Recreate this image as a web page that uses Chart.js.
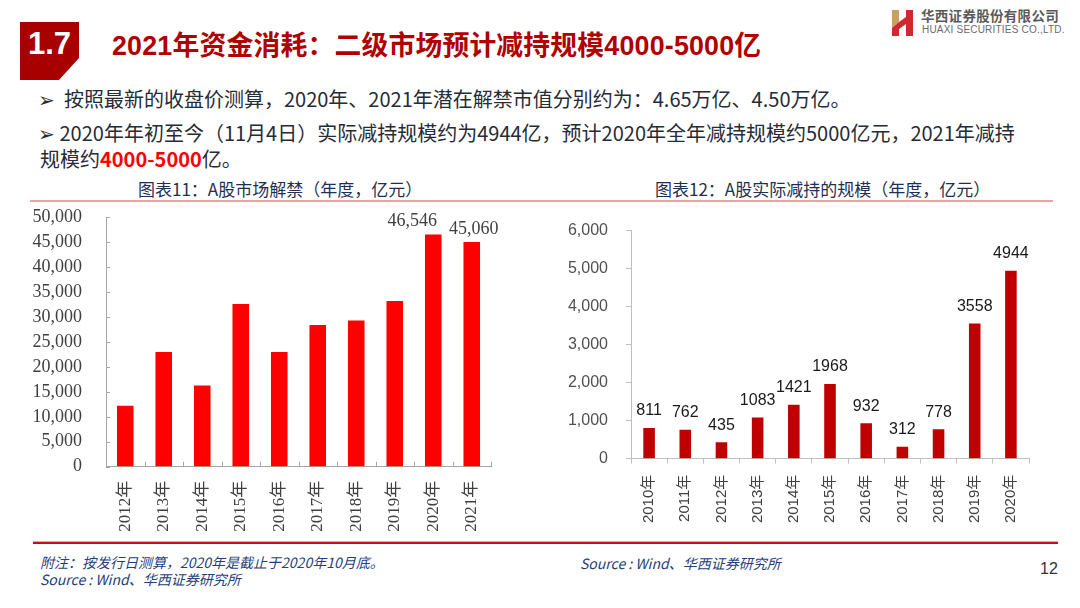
<!DOCTYPE html>
<html>
<head>
<meta charset="utf-8">
<script src="https://cdn.jsdelivr.net/npm/chart.js@4.4.0/dist/chart.umd.min.js"></script>
<style>
  html, body { margin: 0; padding: 0; background: #fff; }
  body { width: 1080px; height: 608px; position: relative; overflow: hidden;
         font-family: "Noto Sans CJK SC", "Liberation Sans", sans-serif; }
  .abs { position: absolute; white-space: nowrap; }
  #badge { left: 20px; top: 22px; width: 59px; height: 58px; background: #a80000;
           clip-path: polygon(0 0, 100% 0, 100% 62%, 66% 100%, 0 100%); }
  #badgeText { left: 20px; top: 26px; width: 59px; text-align: center; color: #fff;
               font: bold 31px "Liberation Sans", sans-serif; }
  #title { left: 112px; top: 24px; color: #b00000; font-size: 26.8px; font-weight: bold;
           font-family: "Liberation Sans", "Noto Sans CJK SC", sans-serif; letter-spacing: 0.2px; }
  .bullet { color: #262b36; font-size: 20px; }
  .ctitle { color: #1f2f52; font-size: 17px; }
  .foot { color: #24407a; font-size: 14px; font-style: italic; }
  .hr1 { position: absolute; left: 30px; top: 200px; width: 1023px; height: 2px; background: #eba3a3; }
  .hr2 { position: absolute; left: 33px; top: 542px; width: 1025px; height: 2px; background: #c41010; }
  .hr2b { position: absolute; left: 33px; top: 541px; width: 1025px; height: 1px; background: #e6a8a8; }
  canvas { position: absolute; }
</style>
</head>
<body>
<div id="badge" class="abs"></div>
<div id="badgeText" class="abs">1.7</div>
<div id="title" class="abs">2021年资金消耗：二级市场预计减持规模4000-5000亿</div>

<svg class="abs" style="left:890px;top:9px" width="26" height="28" viewBox="0 0 26 28">
  <polygon points="2,1 9,1 9,13 2,19" fill="#c9a063"/>
  <polygon points="2,19 9,13 9,27 2,27" fill="#d0282e"/>
  <rect x="16" y="1" width="7" height="26" fill="#d0282e"/>
  <polygon points="9,13 16,8 16,15 9,20" fill="#d0282e"/>
</svg>
<div class="abs" style="left:921px;top:8px;line-height:14px;color:#5a5a5a;font-weight:bold;font-size:13.5px;font-family:'Noto Sans CJK SC';letter-spacing:0.3px">华西证券股份有限公司</div>
<div class="abs" style="left:922px;top:24px;line-height:12px;color:#6a6a6a;font-size:10px;font-family:'Liberation Sans';letter-spacing:0.2px">HUAXI SECURITIES CO.,LTD.</div>

<div class="abs bullet" style="left:38px;top:84px">➢&nbsp;&nbsp;按照最新的收盘价测算，2020年、2021年潜在解禁市值分别约为：4.65万亿、4.50万亿。</div>
<div class="abs bullet" style="left:38px;top:118px">➢ 2020年年初至今（11月4日）实际减持规模约为4944亿，预计2020年全年减持规模约5000亿元，2021年减持</div>
<div class="abs bullet" style="left:40px;top:144px">规模约<span style="color:#ff0000;font-weight:bold">4000-5000</span>亿。</div>

<div class="abs ctitle" style="left:138px;top:176px">图表11：A股市场解禁（年度，亿元）</div>
<div class="abs ctitle" style="left:655px;top:176px">图表12：A股实际减持的规模（年度，亿元）</div>
<div class="hr1"></div>

<canvas id="c1" width="500" height="335" style="left:20px;top:205px;width:500px;height:335px"></canvas>
<canvas id="c2" width="505" height="335" style="left:555px;top:203px;width:505px;height:335px"></canvas>

<div class="hr2b"></div>
<div class="hr2"></div>
<div class="abs foot" style="left:40px;top:552px">附注：按发行日测算，2020年是截止于2020年10月底。</div>
<div class="abs foot" style="left:40px;top:569px">Source : Wind、华西证券研究所</div>
<div class="abs foot" style="left:580px;top:553px">Source : Wind、华西证券研究所</div>
<div class="abs" style="left:1040px;top:560px;color:#333;font:16px 'Liberation Sans'">12</div>

<script>
// ---------- data ----------
const leftCategories = ['2012年','2013年','2014年','2015年','2016年','2017年','2018年','2019年','2020年','2021年'];
const leftValues = [12200, 23000, 16300, 32600, 23000, 28400, 29300, 33200, 46546, 45060];
const leftLabeledCategories = ['2020年','2021年'];
const leftTickMax = 50000;
const leftTickStep = 5000;

const rightCategories = ['2010年','2011年','2012年','2013年','2014年','2015年','2016年','2017年','2018年','2019年','2020年'];
const rightValues = [811, 762, 435, 1083, 1421, 1968, 932, 312, 778, 3558, 4944];
const rightTickMax = 6000;
const rightTickStep = 1000;

const fmt = v => v.toLocaleString('en-US');

// ---------- plugins ----------
const labelPlugin = {
  id: 'barLabels',
  afterDatasetsDraw(chart, args, opts) {
    const ctx = chart.ctx;
    const meta = chart.getDatasetMeta(0);
    const ds = chart.data.datasets[0];
    ctx.save();
    ctx.font = opts.font;
    ctx.fillStyle = opts.color;
    ctx.textAlign = 'center';
    ctx.textBaseline = 'bottom';
    meta.data.forEach((bar, i) => {
      const cat = chart.data.labels[i];
      if (opts.only && !opts.only.includes(cat)) return;
      const dx = (opts.dx && opts.dx[cat]) || 0;
      const text = opts.format ? opts.format(ds.data[i]) : String(ds.data[i]);
      ctx.fillText(text, bar.x + dx, bar.y - opts.gap);
    });
    ctx.restore();
  }
};

const innerTicksPlugin = {
  id: 'innerTicks',
  afterDraw(chart, args, opts) {
    if (!opts.enabled) return;
    const ctx = chart.ctx;
    const x = chart.scales.x, y = chart.scales.y;
    ctx.save();
    ctx.strokeStyle = opts.color;
    ctx.lineWidth = 1;
    ctx.beginPath();
    y.ticks.forEach(t => {
      const py = Math.round(y.getPixelForValue(t.value)) + 0.5;
      ctx.moveTo(x.left, py); ctx.lineTo(x.left + 4, py);
    });
    const n = chart.data.labels.length;
    const w = (x.right - x.left) / n;
    for (let i = 0; i <= n; i++) {
      const px = Math.round(x.left + i * w) + 0.5;
      ctx.moveTo(px, y.bottom); ctx.lineTo(px, y.bottom - 5);
    }
    ctx.stroke();
    ctx.restore();
  }
};

// ---------- left chart ----------
new Chart(document.getElementById('c1'), {
  type: 'bar',
  data: { labels: leftCategories,
          datasets: [{ data: leftValues, backgroundColor: '#ff0000',
                       barPercentage: 0.43, categoryPercentage: 1.0 }] },
  plugins: [labelPlugin, innerTicksPlugin],
  options: {
    responsive: false, animation: false,
    layout: { padding: { top: 12.3, right: 29, left: 0, bottom: 0 } },
    plugins: {
      legend: { display: false }, tooltip: { enabled: false },
      barLabels: { font: '18px "Liberation Serif", serif', color: '#404040', gap: 4,
                   only: leftLabeledCategories, dx: { '2020年': -21, '2021年': 2 }, format: fmt },
      innerTicks: { enabled: true, color: '#a6a6a6' }
    },
    scales: {
      x: {
        grid: { display: false, drawTicks: false },
        border: { display: true, color: '#a6a6a6' },
        ticks: { autoSkip: false, maxRotation: 90, minRotation: 90, padding: 14,
                 color: '#404040', font: { family: '"Liberation Serif", "Noto Sans CJK SC", serif', size: 17 } },
        afterFit(s) { s.height = 73.3; }
      },
      y: {
        min: 0, max: leftTickMax,
        grid: { display: true, drawOnChartArea: false, drawTicks: true, tickLength: 24, tickColor: 'rgba(0,0,0,0)' },
        border: { display: true, color: '#a6a6a6' },
        ticks: { autoSkip: false, stepSize: leftTickStep, padding: 0, color: '#404040', callback: v => fmt(v),
                 font: { family: '"Liberation Serif", serif', size: 18 } },
        afterFit(s) { s.width = 86; }
      }
    }
  }
});

// ---------- right chart ----------
new Chart(document.getElementById('c2'), {
  type: 'bar',
  data: { labels: rightCategories,
          datasets: [{ data: rightValues, backgroundColor: '#c00000',
                       barPercentage: 0.32, categoryPercentage: 1.0 }] },
  plugins: [labelPlugin],
  options: {
    responsive: false, animation: false,
    layout: { padding: { top: 27.7, right: 31, left: 0, bottom: 0 } },
    plugins: {
      legend: { display: false }, tooltip: { enabled: false },
      barLabels: { font: '16px "Liberation Sans", sans-serif', color: '#1a1a1a', gap: 9 }
    },
    scales: {
      x: {
        grid: { drawOnChartArea: false, drawTicks: true, tickLength: 5, color: '#bfbfbf' },
        border: { display: true, color: '#bfbfbf' },
        ticks: { autoSkip: false, maxRotation: 90, minRotation: 90, padding: 11,
                 color: '#404040', font: { family: '"Liberation Sans", "Noto Sans CJK SC", sans-serif', size: 15 } },
        afterFit(s) { s.height = 79.3; }
      },
      y: {
        min: 0, max: rightTickMax,
        grid: { drawOnChartArea: false, drawTicks: true, tickLength: 5, color: '#bfbfbf' },
        border: { display: true, color: '#bfbfbf' },
        ticks: { autoSkip: false, stepSize: rightTickStep, padding: 18, color: '#505050', callback: v => fmt(v),
                 font: { family: '"Liberation Sans", sans-serif', size: 16 } },
        afterFit(s) { s.width = 76; }
      }
    }
  }
});
</script>
</body>
</html>
